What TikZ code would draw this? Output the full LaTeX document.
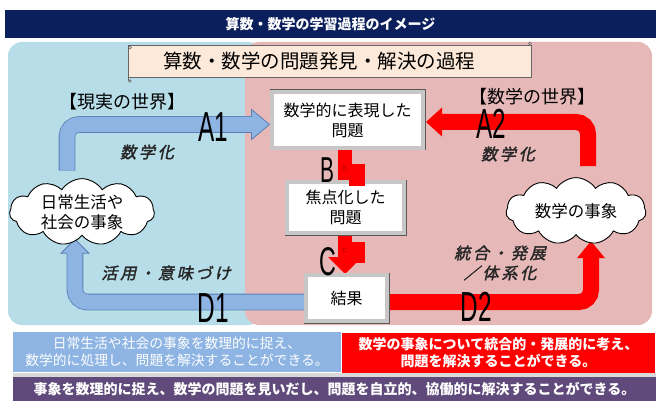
\documentclass[tikz,border=0pt]{standalone}
\usepackage{fontspec}
\setmainfont{Noto Sans CJK JP}
\newfontfamily\jplabel[FakeSlant=0.22,FakeBold=2,LetterSpace=18]{Noto Sans CJK JP}
\newfontfamily\biglat{Liberation Sans}
\usetikzlibrary{shapes.symbols,calc}
\pgfdeclarelayer{bg}
\pgfdeclarelayer{arr}
\pgfsetlayers{bg,arr,main}
\definecolor{navy}{HTML}{0C1F5D}
\definecolor{bluereg}{HTML}{B7DDE8}
\definecolor{pinkreg}{HTML}{E6B9B8}
\definecolor{bluearr}{HTML}{8DB4E2}
\definecolor{blueout}{HTML}{5B7FB5}
\definecolor{peach}{HTML}{FDE9D9}
\definecolor{bluebox}{HTML}{8DB4E2}
\definecolor{purplebar}{HTML}{604A7B}
\definecolor{redarr}{HTML}{FF0000}
\definecolor{artred}{HTML}{A00000}
\begin{document}
\begin{tikzpicture}[x=1pt,y=-1pt,
  every node/.style={inner sep=0pt,outer sep=0pt},
  bevelbox/.style={draw=black!22,line width=3.4pt,fill=white,preaction={draw=black!65,line width=5pt},align=center,font=\fontsize{16}{20}\selectfont},
  cloudbox/.style={cloud,cloud puffs=11,cloud puff arc=115,aspect=2.3,draw=black,line width=0.9pt,fill=white,align=center,font=\fontsize{16.5}{20}\selectfont},
  biglet/.style={font=\biglat\fontsize{42}{42}\selectfont,xscale=0.58},
  slab/.style={font=\jplabel\fontsize{16}{20}\selectfont,align=center,text=black!85},
  redshaft/.style={draw=redarr,line width=16pt,rounded corners=12pt},
  blueshaftout/.style={draw=blueout,line width=16.6pt,rounded corners=12pt},
  blueshaft/.style={draw=bluearr,line width=15pt,rounded corners=12pt},
  bluehead/.style={fill=bluearr,draw=blueout,line width=0.8pt,line join=miter},
  redhead/.style={fill=redarr},
  bandbox/.style={minimum width=#1,align=center,text=white}
]
\useasboundingbox (0,0) rectangle (656,401);

% ---------- regions ----------
\begin{pgfonlayer}{bg}
\fill[white] (0,0) rectangle (656,401);
\fill[bluereg,rounded corners=14pt] (8,42) rectangle (262,325);
\fill[pinkreg,rounded corners=14pt] (245,42) rectangle (652,325);
\end{pgfonlayer}

% ---------- title ----------
\node[fill=navy,minimum width=651,minimum height=28,text=white,font=\fontsize{14}{16}\selectfont\bfseries] (title) at (330.5,24) {算数・数学の学習過程のイメージ};

% ---------- banner ----------
\node[fill=peach,draw=black!60,line width=0.7pt,minimum width=403,minimum height=32,font=\fontsize{19.5}{22}\selectfont] (banner) at (330,61) {\hspace*{-22pt}算数・数学の問題発見・解決の過程};
\draw[black!60,line width=0.6pt] (banner.south west) -- ++(0,4);
\draw[black!60,line width=0.5pt] ($(banner.north west)+(1.5,2.5)$) circle (1.6);
\draw[black!60,line width=0.5pt] ($(banner.north east)+(-1.5,-1.5)$) circle (1.6);
\draw[black!60,line width=0.5pt] ($(banner.south west)+(1.5,4)$) circle (1.3);

% ---------- world labels ----------
\node[font=\fontsize{18}{20}\selectfont] (realw) at (122,102) {【現実の世界】};
\node[font=\fontsize{18}{20}\selectfont] (mathw) at (532,97) {【数学の世界】};

% ---------- boxes ----------
\node[bevelbox,minimum width=151,minimum height=56] (box1) at (347.5,120) {数学的に表現した\\問題};
\node[bevelbox,minimum width=117,minimum height=51] (box2) at (345.5,207.5) {焦点化した\\問題};
\node[bevelbox,minimum width=81,minimum height=46] (box3) at (346.5,298) {結果};

% ---------- clouds ----------
\node[cloudbox,minimum width=145,minimum height=64] (cloudL) at (82,212) {日常生活や\\社会の事象};
\node[cloudbox,minimum width=140,minimum height=55] (cloudR) at (576,211) {数学の事象};

% ---------- arrow end points ----------
\coordinate (sA1) at ($(cloudL.north)+(-15,-8)$);
\coordinate (tA1) at ($(box1.west)+(-2.5,4.5)$);
\coordinate (sA2) at ($(cloudR.north)+(12,-11.5)$);
\coordinate (tA2) at ($(box1.east)+(3,2)$);
\coordinate (tD1) at ($(cloudL.south)+(-7,4)$);
\coordinate (tD2) at ($(cloudR.south)+(15,6.5)$);
\coordinate (tC) at ($(box3.north)+(-1.5,-1)$);

\begin{pgfonlayer}{arr}
% A1 (blue, up then right)
\draw[blueshaftout] (sA1) |- ($(tA1)+(-17,0)$);
\filldraw[bluehead] ($(tA1)+(-18,-15)$) -- (tA1) -- ($(tA1)+(-18,15)$) -- cycle;
\draw[blueshaft] (sA1) |- ($(tA1)+(-16,0)$);
% D1 (blue, left then up)
\draw[blueshaftout] ($(box3.center)+(0,4)$) -| ($(tD1)+(0,13)$);
\filldraw[bluehead] ($(tD1)+(-14,14)$) -- (tD1) -- ($(tD1)+(14,14)$) -- cycle;
\draw[blueshaft] ($(box3.center)+(0,4)$) -| ($(tD1)+(0,12)$);
% A2 (red, up then left)
\draw[redshaft] (sA2) |- ($(tA2)+(15,0)$);
\fill[redhead] ($(tA2)+(16,-14.5)$) -- (tA2) -- ($(tA2)+(16,14.5)$) -- cycle;
% D2 (red, right then up)
\draw[redshaft] ($(box3.center)+(0,4)$) -| ($(tD2)+(0,16)$);
\fill[redhead] ($(tD2)+(-14,17)$) -- (tD2) -- ($(tD2)+(14,17)$) -- cycle;
% B (red bar)
\draw[draw=redarr,line width=14pt] ($(box1.south)+(-2.5,0)$) -- ($(box2.north)+(-0.5,0)$);
% C (red arrow)
\draw[draw=redarr,line width=14pt] ($(box2.south)+(-0.5,0)$) -- ($(tC)+(0,-16)$);
\fill[redhead] ($(tC)+(-17,-17)$) -- (tC) -- ($(tC)+(17,-17)$) -- cycle;
\end{pgfonlayer}

% red squares with small letters
\fill[redarr] (349,164) rectangle (365,186);
\node[text=artred,font=\biglat\fontsize{6}{6}\selectfont] (smallE) at (345,168) {E};
\fill[redarr] (351,242) rectangle (365,263);
\node[text=artred,font=\biglat\fontsize{6}{6}\selectfont] (smallC) at (345,250) {C};

% ---------- arrow labels ----------
\node[slab] (l1) at (147,152) {数学化};
\node[slab] (l2) at (508,154) {数学化};
\node[slab] (l3) at (166,273) {活用・意味づけ};
\node[slab] (l4) at (500,263) {統合・発展\\／体系化};

% ---------- big letters ----------
\node[biglet] (A1) at (213,127) {A1};
\node[biglet] (A2) at (491,124) {A2};
\node[biglet,font=\biglat\fontsize{36}{36}\selectfont] (B) at (327,170) {B};
\node[biglet,font=\biglat\fontsize{40}{40}\selectfont] (C) at (328,262) {C};
\node[biglet] (D1) at (213,308) {D1};
\node[biglet] (D2) at (476,307) {D2};

% ---------- bottom bands ----------
\node[fill=bluebox,bandbox=328,minimum height=40,font=\fontsize{13.8}{17}\selectfont] (bandL) at (177,352) {日常生活や社会の事象を数理的に捉え、\\数学的に処理し、問題を解決することができる。};
\node[fill=redarr,bandbox=313,minimum height=40,font=\fontsize{14}{17}\selectfont\bfseries] (bandR) at (498.5,353) {数学の事象について統合的・発展的に考え、\\問題を解決することができる。};
\fill[black!15] (13,373) rectangle (656,377);
\node[fill=purplebar,bandbox=643,minimum height=24,font=\fontsize{14}{16}\selectfont\bfseries] (bandP) at (334.5,389) {事象を数理的に捉え、数学の問題を見いだし、問題を自立的、協働的に解決することができる。};
\end{tikzpicture}
\end{document}
